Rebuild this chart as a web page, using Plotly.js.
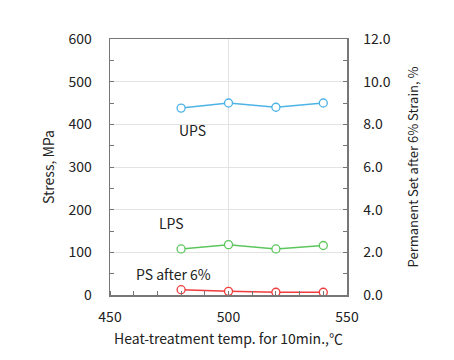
<!DOCTYPE html>
<html>
<head>
<meta charset="utf-8">
<script src="https://cdn.plot.ly/plotly-3.0.1.min.js"></script>
<style>html,body{margin:0;padding:0;background:#fff;}#chart{width:454px;height:360px;}</style>
</head>
<body>
<div id="chart"></div>
<script>
const temps = [480, 500, 520, 540];
const ups = [438, 450, 440, 450];
const lps = [108, 118, 108, 116];
const psAfter6 = [0.25, 0.17, 0.13, 0.13];
const seriesNames = ["UPS", "LPS", "PS after 6%"];

const FONT = "Noto Sans CJK JP, Noto Sans, sans-serif";
const mk = (c) => ({symbol: "circle", size: 8, color: "#fff", line: {width: 1.3, color: c}});

const traces = [
  {x: temps, y: ups, name: seriesNames[0], mode: "lines+markers", line: {color: "#4db3e6", width: 1.5}, marker: mk("#4db3e6"), yaxis: "y"},
  {x: temps, y: lps, name: seriesNames[1], mode: "lines+markers", line: {color: "#5cc65c", width: 1.5}, marker: mk("#5cc65c"), yaxis: "y"},
  {x: temps, y: psAfter6, name: seriesNames[2], mode: "lines+markers", line: {color: "#f03c3c", width: 1.5}, marker: mk("#f03c3c"), yaxis: "y2"}
];

const layout = {
  width: 454, height: 360,
  margin: {l: 110, r: 107, t: 39, b: 65},
  paper_bgcolor: "#fff", plot_bgcolor: "#fff",
  showlegend: false,
  font: {family: FONT, size: 14, color: "#222"},
  xaxis: {
    range: [450, 550], tickvals: [450, 500, 550], ticks: "",
    showline: true, linecolor: "#777", linewidth: 1.5, mirror: true,
    showgrid: true, gridcolor: "#e3e3e3",
    zeroline: false,
    minor: {dtick: 10, ticks: "inside", ticklen: 4, tickcolor: "#777", showgrid: false},
    ticklabelstandoff: 9,
    title: {text: "Heat-treatment temp. for 10min.,℃", standoff: 9, font: {size: 14}}
  },
  yaxis: {
    range: [0, 600], dtick: 100, ticks: "inside", ticklen: 4, tickcolor: "#777",
    showline: true, linecolor: "#777", linewidth: 1.5,
    showgrid: true, gridcolor: "#e3e3e3", zeroline: false,
    minor: {dtick: 50, ticks: "inside", ticklen: 4, tickcolor: "#777", showgrid: false},
    ticklabelstandoff: 14,
    title: {text: "Stress, MPa", standoff: 10, font: {size: 14}}
  },
  yaxis2: {
    overlaying: "y", side: "right",
    range: [0, 12], dtick: 2, tickformat: ".1f", ticks: "inside", ticklen: 4, tickcolor: "#777",
    showline: true, linecolor: "#777", linewidth: 1.5,
    showgrid: false, zeroline: false,
    minor: {dtick: 1, ticks: "inside", ticklen: 4, tickcolor: "#777"},
    ticklabelstandoff: 12,
    title: {text: "Permanent Set after 6% Strain, %", standoff: 19, font: {size: 13}}
  },
  annotations: [
    {x: 485, y: 387, xref: "x", yref: "y", text: seriesNames[0], showarrow: false, font: {size: 14, color: "#222"}},
    {x: 476, y: 169, xref: "x", yref: "y", text: seriesNames[1], showarrow: false, font: {size: 14, color: "#222"}},
    {x: 477, y: 49, xref: "x", yref: "y", text: seriesNames[2], showarrow: false, font: {size: 14, color: "#222"}}
  ]
};

Plotly.newPlot("chart", traces, layout, {staticPlot: true, displayModeBar: false});
</script>
</body>
</html>
